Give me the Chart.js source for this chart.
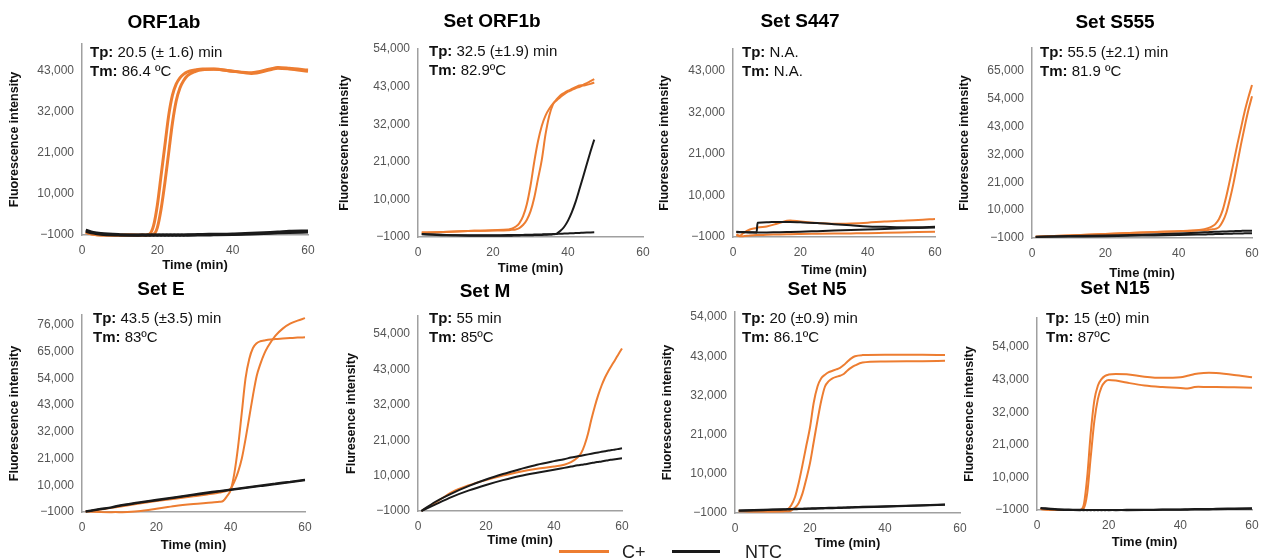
<!DOCTYPE html>
<html><head><meta charset="utf-8">
<script src="https://cdn.jsdelivr.net/npm/chart.js@4"></script>
<style>
html,body{margin:0;padding:0;background:#fff;width:1264px;height:560px;overflow:hidden;position:relative;font-family:"Liberation Sans",Arial,sans-serif;}
canvas{position:absolute;}
.lline{position:absolute;height:3px;}
.ltext{position:absolute;font-size:18px;line-height:22px;color:#222;}
</style></head><body>
<canvas id="c0"></canvas><canvas id="c1"></canvas><canvas id="c2"></canvas><canvas id="c3"></canvas>
<canvas id="c4"></canvas><canvas id="c5"></canvas><canvas id="c6"></canvas><canvas id="c7"></canvas>
<div class="lline" style="left:559px;top:550px;width:50px;background:#ED7D31"></div>
<div class="ltext" style="left:622px;top:541px">C+</div>
<div class="lline" style="left:672px;top:550px;width:48px;background:#1a1a1a"></div>
<div class="ltext" style="left:745px;top:541px">NTC</div>
<script>
// ---------- DATA ----------
const panelTitles = ['ORF1ab','Set ORF1b','Set S447','Set S555','Set E','Set M','Set N5','Set N15'];
const yAxisTitles = ['Fluorescence intensity','Fluorescence intensity','Fluorescence intensity','Fluorescence intensity','Fluorescence intensity','Fluresence intensity','Fluorescence intensity','Fluorescence intensity'];
const xAxisTitle = 'Time (min)';
const tpTexts = ['20.5 (± 1.6) min','32.5 (±1.9) min','N.A.','55.5 (±2.1) min','43.5 (±3.5) min','55 min','20 (±0.9) min','15 (±0) min'];
const tmTexts = ['86.4 ºC','82.9ºC','N.A.','81.9 ºC','83ºC','85ºC','86.1ºC','87ºC'];
const legendLabels = ['C+','NTC'];
const xTickValues = [0,20,40,60];
const yTickValues = [-1000,10000,21000,32000,43000,54000,65000,76000];
const yTickLabels = ['\u22121000','10,000','21,000','32,000','43,000','54,000','65,000','76,000'];
const yAxisMax = [50300,54000,48800,74100,80100,59600,55400,63800];

// ORF1ab
const orf1abTime = [1,3,5,10,15,17,18,19,20,21,22,23,24,25,26,27,28,30,32,35,40,45,50,52,55,60];
const orf1abC1 = [-300,-800,-1000,-1050,-1050,-1000,-700,1500,7000,15000,23000,31000,36500,39500,41200,42200,42800,43300,43600,43600,43000,42600,43600,44000,43800,43300];
const orf1abC2 = [-300,-800,-1000,-1050,-1050,-1050,-1000,-800,1000,6000,13000,21000,29000,35000,38500,40500,41800,42900,43400,43500,43000,42400,43400,43800,43600,43000];
const orf1abN1 = [300,-300,-600,-900,-1000,-1000,-1000,-1000,-1000,-1000,-1000,-1000,-1000,-1000,-1000,-1000,-950,-900,-850,-800,-700,-500,-300,-200,0,100];
const orf1abN2 = [0,-500,-800,-1000,-1050,-1050,-1050,-1050,-1050,-1050,-1050,-1050,-1050,-1050,-1050,-1050,-1050,-1000,-1000,-950,-850,-700,-500,-400,-300,-200];
// ORF1b
const orf1bTime = [1,5,10,15,20,24,25,26,27,28,29,30,31,32,33,34,35,36,37,38,39,40,41,42,43,44,45,46,47];
const orf1bC1 = [300,400,600,800,1000,1200,1400,2000,3000,5000,8500,14000,21000,27000,31500,34500,36500,38000,39000,40000,40800,41500,42000,42500,42900,43300,43500,43800,44200];
const orf1bC2 = [300,400,600,800,900,1000,1100,1200,1600,2500,4000,6500,10500,16000,21500,29000,34500,37800,39300,40500,41200,41800,42300,42800,43300,43500,44000,44600,45200];
const orf1bN1 = [-200,-400,-500,-600,-600,-600,-600,-550,-550,-500,-500,-500,-450,-400,-400,-350,-300,-200,0,800,2000,3800,6200,9200,12800,16500,20300,24000,27500];
const orf1bN2 = [-100,-300,-500,-500,-500,-450,-450,-400,-400,-400,-350,-350,-300,-300,-250,-200,-200,-150,-100,-50,0,50,100,150,200,250,300,350,400];
// S447
const s447Time = [1,2,3,5,7,7.3,10,13,16,17,20,25,30,35,40,45,50,55,60];
const s447C1 = [-300,-700,0,1000,1400,1500,1800,2500,3300,3400,3100,2700,2500,2600,2800,3100,3300,3500,3800];
const s447C2 = [-500,-800,-800,-600,-500,-500,-400,-350,-300,-250,-200,-150,-100,-50,0,100,200,300,400];
const s447N1 = [400,350,300,250,200,2800,2900,3000,3000,3000,2900,2700,2400,2100,1800,1700,1600,1600,1700];
const s447N2 = [300,250,250,200,200,200,200,250,300,320,400,550,700,850,1000,1150,1300,1400,1500];
// S555
const s555Time = [1,10,20,30,40,45,47,48,49,50,51,52,53,54,55,56,57,58,59,60];
const s555C1 = [-500,0,600,1200,1700,2100,2500,2900,3500,4500,6500,10000,15500,22000,29000,36000,42500,49000,54500,59500];
const s555C2 = [-500,0,600,1200,1700,2000,2100,2200,2400,2600,3300,5500,9000,14500,21000,28500,36000,43000,49500,55000];
const s555N1 = [-500,-200,0,300,800,1100,1250,1300,1400,1450,1500,1550,1600,1650,1700,1750,1800,1850,1880,1900];
const s555N2 = [-600,-450,-300,-50,200,350,420,450,500,550,580,620,650,700,730,770,800,840,870,900];
// Set E
const eTime = [1,5,8,10,15,20,25,30,35,37,38,39,40,41,42,43,44,45,46,47,48,49,50,52,54,56,58,60];
const eC1 = [-800,-1000,-1100,-1100,-700,300,1500,2300,2900,3200,3600,5500,8000,15000,26000,40000,54000,62000,66500,68500,69300,69600,69900,70200,70400,70600,70800,70900];
const eC2 = [-800,0,700,1200,2400,3500,4500,5500,6500,7000,7300,7800,8600,11500,15500,21000,29000,38000,47000,55000,60000,64000,67000,71500,74500,76500,77800,78800];
const eN1 = [-700,300,1000,1700,2900,4000,5100,6200,7300,7700,7900,8100,8300,8500,8700,8900,9100,9300,9500,9700,9900,10100,10300,10700,11100,11500,11900,12300];
const eN2 = [-900,100,800,1450,2650,3750,4850,5950,7050,7450,7650,7850,8050,8250,8450,8650,8850,9050,9250,9450,9650,9850,10050,10450,10850,11250,11650,12050];
// Set M
const mTime = [1,5,10,15,20,25,30,35,40,43,45,47,48,49,50,51,52,53,54,55,56,57,58,59,60];
const mC1 = [-1000,1500,4900,7000,8600,10000,11200,12100,12800,13400,14200,15700,17000,19500,23000,27500,31500,35000,38000,40500,42500,44300,46000,47800,49500];
const mN1 = [-1000,1800,4500,6800,8800,10500,12000,13400,14500,15100,15600,16000,16200,16400,16600,16800,17000,17200,17400,17600,17800,17950,18100,18300,18500];
const mN2 = [-1000,1000,3400,5400,7100,8600,9900,10900,11800,12400,12800,13200,13350,13500,13700,13900,14100,14250,14400,14600,14800,14950,15100,15250,15400];
// Set N5
const n5Time = [1,5,10,13,14,15,16,17,18,19,20,21,22,23,24,25,26,27,28,29,30,31,32,34,40,50,56];
const n5C1 = [-400,-500,-500,-400,0,1200,3500,7500,12500,17800,23000,30000,34500,36800,37800,38500,38900,39300,39700,40500,41500,42400,43000,43300,43400,43400,43300];
const n5C2 = [-500,-600,-600,-550,-500,-300,500,1800,4500,8500,13000,19000,25000,30500,34500,36000,36800,37200,37500,38000,39000,39800,40400,41200,41500,41600,41700];
const n5N1 = [-300,-180,-20,70,100,130,160,190,220,260,290,320,350,380,410,440,470,500,530,560,590,620,650,720,900,1200,1400];
const n5N2 = [-400,-280,-120,-30,0,30,60,90,120,150,180,210,240,270,300,330,360,390,420,450,480,510,540,600,780,1080,1280];
// Set N15
const n15Time = [1,5,10,12,13,14,15,16,17,18,19,20,22,25,30,35,40,42,44,45,48,50,55,60];
const n15C1 = [-700,-1000,-1000,-1000,500,10000,25000,36000,41000,43200,44300,44700,44900,44800,44000,43600,43800,44300,44900,45100,45300,45200,44600,43800];
const n15C2 = [-700,-1000,-1000,-1000,-500,4500,17000,29000,36500,40500,42300,42900,42700,42000,41000,40500,40200,40000,40500,40600,40500,40500,40400,40300];
const n15N1 = [-300,-700,-900,-950,-950,-1000,-1000,-1000,-1000,-1000,-1000,-1000,-1000,-950,-900,-850,-800,-750,-700,-700,-650,-600,-500,-400];
const n15N2 = [-400,-800,-1000,-1050,-1050,-1050,-1050,-1050,-1050,-1050,-1050,-1050,-1050,-1050,-1000,-950,-900,-880,-850,-850,-800,-750,-650,-550];

const panelSeries = [
  [[orf1abTime,orf1abN1,1],[orf1abTime,orf1abN2,1],[orf1abTime,orf1abC1,0],[orf1abTime,orf1abC2,0]],
  [[orf1bTime,orf1bN1,1],[orf1bTime,orf1bN2,1],[orf1bTime,orf1bC1,0],[orf1bTime,orf1bC2,0]],
  [[s447Time,s447N1,1],[s447Time,s447N2,1],[s447Time,s447C1,0],[s447Time,s447C2,0]],
  [[s555Time,s555N1,1],[s555Time,s555N2,1],[s555Time,s555C1,0],[s555Time,s555C2,0]],
  [[eTime,eN1,1],[eTime,eN2,1],[eTime,eC1,0],[eTime,eC2,0]],
  [[mTime,mN1,1],[mTime,mN2,1],[mTime,mC1,0]],
  [[n5Time,n5N1,1],[n5Time,n5N2,1],[n5Time,n5C1,0],[n5Time,n5C2,0]],
  [[n15Time,n15N1,1],[n15Time,n15N2,1],[n15Time,n15C1,0],[n15Time,n15C2,0]]
];

// ---------- LAYOUT / STYLE ----------
const FONT = '"Liberation Sans", Arial, Helvetica, sans-serif';
const seriesColors = ['#ED7D31','#1a1a1a'];
const geo = [
 {L:82,T:44,R:308,B:235,yt:15,tx:164,ty:23,xt:265,ax:90,ay:53,cT:0,cH:292,lw:3},
 {L:418,T:49,R:643,B:237,yt:345,tx:492,ty:22,xt:268,ax:429,ay:52,cT:0,cH:292,lw:2},
 {L:733,T:49,R:935,B:237,yt:665,tx:800,ty:22,xt:270,ax:742,ay:53,cT:0,cH:292,lw:2},
 {L:1032,T:48,R:1252,B:238,yt:965,tx:1115,ty:23,xt:273,ax:1040,ay:53,cT:0,cH:292,lw:2},
 {L:82,T:315,R:305,B:512,yt:15,tx:161,ty:290,xt:545,ax:93,ay:319,cT:275,cH:285,lw:2},
 {L:418,T:316,R:622,B:511,yt:352,tx:485,ty:292,xt:540,ax:429,ay:319,cT:275,cH:285,lw:2},
 {L:735,T:312,R:960,B:513,yt:668,tx:817,ty:290,xt:543,ax:742,ay:319,cT:275,cH:285,lw:2},
 {L:1037,T:318,R:1252,B:510,yt:970,tx:1115,ty:289,xt:542,ax:1046,ay:319,cT:275,cH:285,lw:2}
];
const TITLE_SIZE = 19, YT_SIZE = 12.5, XT_SIZE = 13, TICK_SIZE = 12, ANN_SIZE = 15;

const annotPlugin = {
  id: 'tpTm',
  afterDraw(chart, args, o) {
    const ctx = chart.ctx; ctx.save();
    ctx.textBaseline = 'middle'; ctx.fillStyle = '#111'; ctx.textAlign = 'left';
    [['Tp:', o.tp, o.y1], ['Tm:', o.tm, o.y2]].forEach(([lab, val, y]) => {
      ctx.font = 'bold ' + ANN_SIZE + 'px ' + FONT;
      ctx.fillText(lab, o.x, y);
      const w = ctx.measureText(lab + ' ').width;
      ctx.font = ANN_SIZE + 'px ' + FONT;
      ctx.fillText(val, o.x + w, y);
    });
    ctx.restore();
  }
};

geo.forEach((g, p) => {
  const cL = Math.min(g.yt - 8, 2 * g.tx - g.R - 14);
  const cW = 2 * (g.tx - cL);
  const canvas = document.getElementById('c' + p);
  canvas.width = cW; canvas.height = g.cH;
  canvas.style.left = cL + 'px'; canvas.style.top = g.cT + 'px';
  canvas.style.width = cW + 'px'; canvas.style.height = g.cH + 'px';
  const tLh = TITLE_SIZE * 1.2;
  const tPadTop = g.ty - g.cT - tLh / 2;
  const tPadBottom = g.T - g.ty - tLh / 2;
  const yW = g.L - cL;
  const yTitlePad = g.yt - cL - YT_SIZE * 1.2 / 2;
  const xH = g.xt + XT_SIZE * 1.2 / 2 - g.B;
  const padB = g.cT + g.cH - g.B - xH;
  const padR = cL + cW - g.R;

  const datasets = panelSeries[p].map(([t, v, k]) => ({
    label: legendLabels[k],
    data: t.map((x, i) => ({x: x, y: v[i]})),
    borderColor: seriesColors[k],
    backgroundColor: seriesColors[k],
    borderWidth: g.lw,
    pointRadius: 0,
    cubicInterpolationMode: 'monotone',
    fill: false,
    clip: 6
  }));

  new Chart(canvas, {
    type: 'line',
    data: { datasets },
    plugins: [annotPlugin],
    options: {
      responsive: false,
      animation: false,
      devicePixelRatio: 1,
      layout: { padding: { left: 0, right: 0, top: 0, bottom: padB } },
      plugins: {
        legend: { display: false },
        tooltip: { enabled: false },
        title: {
          display: true, text: panelTitles[p], color: '#000',
          font: { family: FONT, size: TITLE_SIZE, weight: 'bold' },
          padding: { top: tPadTop, bottom: tPadBottom }
        },
        tpTm: { x: g.ax - cL, y1: g.ay - g.cT, y2: g.ay + 18.5 - g.cT, tp: tpTexts[p], tm: tmTexts[p] }
      },
      scales: {
        x: {
          type: 'linear', position: 'bottom', min: 0, max: 60,
          grid: { display: false, drawTicks: false },
          border: { display: true, color: '#a0a0a0', width: 1.5 },
          ticks: { stepSize: 20, padding: 8, color: '#555', font: { family: FONT, size: TICK_SIZE }, autoSkip: false, maxRotation: 0 },
          afterBuildTicks: s => { s.ticks = xTickValues.map(v => ({ value: v })); },
          title: { display: true, text: xAxisTitle, color: '#111', font: { family: FONT, size: XT_SIZE, weight: 'bold' }, padding: 0 },
          afterFit: s => { s.height = xH; s.paddingLeft = 0; s.paddingRight = 0; }
        },
        y: {
          type: 'linear', position: 'left', min: -1000, max: yAxisMax[p],
          grid: { display: false, drawTicks: false },
          border: { display: true, color: '#a0a0a0', width: 1.5 },
          ticks: {
            padding: 8, color: '#555', font: { family: FONT, size: TICK_SIZE }, autoSkip: false,
            callback: v => { const i = yTickValues.indexOf(v); return i >= 0 ? yTickLabels[i] : ''; }
          },
          afterBuildTicks: s => { s.ticks = yTickValues.filter(v => v <= s.max).map(v => ({ value: v })); },
          title: { display: true, text: yAxisTitles[p], color: '#111', font: { family: FONT, size: YT_SIZE, weight: 'bold' }, padding: { top: yTitlePad, bottom: 0 } },
          afterFit: s => { s.width = yW; s.paddingTop = 0; s.paddingBottom = 0; }
        },
        yR: {
          type: 'linear', position: 'right', display: true,
          grid: { display: false, drawTicks: false },
          border: { display: false },
          ticks: { display: false },
          afterFit: s => { s.width = padR; s.paddingTop = 0; s.paddingBottom = 0; }
        }
      }
    }
  });
});
</script>
</body></html>
